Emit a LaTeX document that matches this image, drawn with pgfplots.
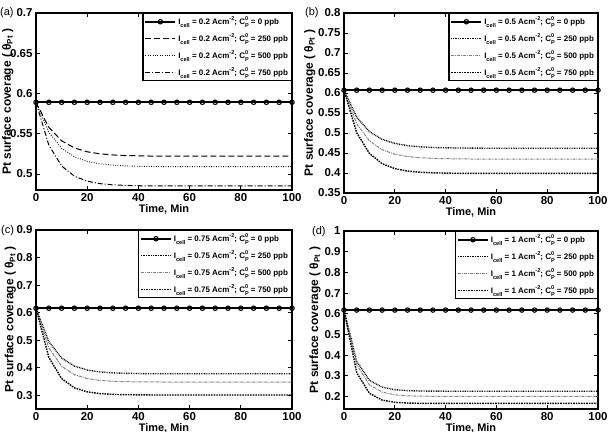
\documentclass[border=0pt]{standalone}
\usepackage{pgfplots}
\pgfplotsset{compat=1.18}
\usepackage{fontspec}
\setmainfont{Liberation Sans}

% legend text: I_cell = <current> Acm^-2; C_P^0 = <conc> ppb
\newcommand{\sm}{\fontsize{5.6}{6}\selectfont}
\newcommand{\Cp}{C\makebox[0pt][l]{\raisebox{0.5em}{\sm 0}}\raisebox{-0.32em}{\sm P}}
\newcommand{\entry}[2]{I\raisebox{-0.32em}{\sm cell} = #1 Acm\raisebox{0.5em}{\sm -2}; \Cp{} = #2 ppb}

\tikzset{letter/.style={anchor=west, inner sep=0pt, font=\fontsize{11}{12}\selectfont}}

\pgfplotsset{
  panel/.style={
    scale only axis,
    xmin=0, xmax=100, xtick={0,20,...,100},
    axis line style={line width=1.1bp},
    every tick/.style={black, line width=0.8bp},
    major tick length=4bp,
    tick label style={font=\fontsize{11.5}{12}\bfseries\selectfont},
    /pgf/number format/assume math mode=true,
    label style={font=\fontsize{11}{12}\bfseries\selectfont},
    xlabel={Time, Min},
    ylabel={Pt surface coverage ( θ\textsubscript{Pt} )},
    xlabel style={at={(axis description cs:0.5,0)}, yshift=-19bp, anchor=center},
    legend cell align=left,
    legend style={at={(1,1)}, anchor=north east, draw=black, line width=1.1bp,
      font=\fontsize{8}{9}\bfseries\selectfont, inner sep=1.5bp, row sep=3.5bp},
    legend image code/.code={
      \draw[mark repeat=2,mark phase=2,#1] plot coordinates {(0bp,0bp) (15bp,0bp) (30bp,0bp)};},
  },
  ylab/.style={ylabel style={at={(axis description cs:#1,0.5)}, anchor=center,
    font=\fontsize{12}{13}\bfseries\selectfont}},
  zero/.style={black, line width=1.8bp, mark=o, mark size=2.2bp,
    mark options={solid, line width=1.1bp, fill=white}},
  % styles of panel (a)
  adash/.style={black, line width=1bp, dash pattern=on 6bp off 3bp},
  adot/.style={black, line width=0.9bp, dash pattern=on 0.8bp off 1.6bp},
  adashdot/.style={black, line width=1bp, dash pattern=on 5bp off 2bp on 1bp off 2bp},
  % styles of panels (b)-(d)
  bdot/.style={black, line width=1.4bp, dash pattern=on 0.8bp off 0.9bp},
  bgray/.style={gray, line width=1bp, dash pattern=on 3bp off 1bp on 1bp off 1bp},
  bdash/.style={black, line width=1.4bp, dash pattern=on 1.6bp off 1bp},
}

\begin{document}
\begin{tikzpicture}
\path[use as bounding box] (0,0) rectangle (610bp,-432bp);

% ---------------- (a) 0.2 A/cm2 ----------------
\node[letter] at (0bp,-13bp) {(a)};
\begin{axis}[panel, at={(36bp,-190bp)}, anchor=south west,
  width=256bp, height=177bp,
  ymin=0.48, ymax=0.7, ytick={0.5,0.55,0.6,0.65,0.7}, ylab=-0.11]
\addplot[zero] coordinates {(0,0.589)(5,0.589)(10,0.589)(15,0.589)(20,0.589)(25,0.589)(30,0.589)(35,0.589)(40,0.589)(45,0.589)(50,0.589)(55,0.589)(60,0.589)(65,0.589)(70,0.589)(75,0.589)(80,0.589)(85,0.589)(90,0.589)(95,0.589)(100,0.589)};
\addplot[adash] coordinates {(0,0.589)(5,0.5579)(10,0.5412)(15,0.5323)(20,0.5275)(25,0.5249)(30,0.5236)(35,0.5228)(40,0.5225)(45,0.5222)(50,0.522)(100,0.522)};
\addplot[adot] coordinates {(0,0.589)(5,0.5518)(10,0.5319)(15,0.5213)(20,0.5156)(25,0.5125)(30,0.5109)(35,0.510)(40,0.5095)(45,0.5093)(50,0.509)(100,0.509)};
\addplot[adashdot] coordinates {(0,0.589)(5,0.5359)(10,0.5099)(15,0.4972)(20,0.491)(25,0.4879)(30,0.4864)(35,0.4857)(40,0.4853)(45,0.4852)(50,0.485)(100,0.485)};
\legend{\entry{0.2}{0},\entry{0.2}{250},\entry{0.2}{500},\entry{0.2}{750}}
\end{axis}

% ---------------- (b) 0.5 A/cm2 ----------------
\node[letter] at (305bp,-13bp) {(b)};
\begin{axis}[panel, at={(344bp,-193bp)}, anchor=south west,
  width=254bp, height=180bp,
  ymin=0.35, ymax=0.8, ytick={0.35,0.4,0.45,0.5,0.55,0.6,0.65,0.7,0.75,0.8}, ylab=-0.135]
\addplot[zero] coordinates {(0,0.607)(5,0.607)(10,0.607)(15,0.607)(20,0.607)(25,0.607)(30,0.607)(35,0.607)(40,0.607)(45,0.607)(50,0.607)(55,0.607)(60,0.607)(65,0.607)(70,0.607)(75,0.607)(80,0.607)(85,0.607)(90,0.607)(95,0.607)(100,0.607)};
\addplot[bdot] coordinates {(0,0.607)(5,0.5396)(10,0.5035)(15,0.4842)(20,0.4739)(25,0.4684)(30,0.4654)(35,0.4638)(40,0.463)(45,0.4625)(50,0.4623)(55,0.462)(100,0.462)};
\addplot[bgray] coordinates {(0,0.607)(5,0.5233)(10,0.4803)(15,0.4583)(20,0.447)(25,0.4411)(30,0.4381)(35,0.4366)(40,0.4358)(45,0.4354)(50,0.435)(100,0.435)};
\addplot[bdash] coordinates {(0,0.607)(5,0.5008)(10,0.4489)(15,0.4234)(20,0.4109)(25,0.4048)(30,0.4019)(35,0.4004)(40,0.3997)(45,0.3993)(50,0.399)(100,0.399)};
\legend{\entry{0.5}{0},\entry{0.5}{250},\entry{0.5}{500},\entry{0.5}{750}}
\end{axis}

% ---------------- (c) 0.75 A/cm2 ----------------
\node[letter] at (1bp,-231bp) {(c)};
\begin{axis}[panel, at={(36bp,-409bp)}, anchor=south west,
  width=256bp, height=179bp,
  ymin=0.25, ymax=0.9, ytick={0.3,0.4,0.5,0.6,0.7,0.8,0.9}, ylab=-0.10]
\addplot[zero] coordinates {(0,0.616)(5,0.616)(10,0.616)(15,0.616)(20,0.616)(25,0.616)(30,0.616)(35,0.616)(40,0.616)(45,0.616)(50,0.616)(55,0.616)(60,0.616)(65,0.616)(70,0.616)(75,0.616)(80,0.616)(85,0.616)(90,0.616)(95,0.616)(100,0.616)};
\addplot[bdot] coordinates {(0,0.616)(5,0.4945)(10,0.435)(15,0.4059)(20,0.3917)(25,0.3847)(30,0.3813)(35,0.3796)(40,0.3788)(45,0.3784)(50,0.378)(100,0.378)};
\addplot[bgray] coordinates {(0,0.616)(5,0.4722)(10,0.4055)(15,0.3747)(20,0.3604)(25,0.3537)(30,0.3507)(35,0.3492)(40,0.3486)(45,0.3483)(50,0.348)(100,0.348)};
\addplot[bdash] coordinates {(0,0.616)(5,0.4379)(10,0.3605)(15,0.3269)(20,0.3122)(25,0.3059)(30,0.3031)(35,0.3019)(40,0.3014)(45,0.301)(100,0.301)};
\legend{\entry{0.75}{0},\entry{0.75}{250},\entry{0.75}{500},\entry{0.75}{750}}
\end{axis}

% ---------------- (d) 1 A/cm2 ----------------
\node[letter] at (312bp,-232bp) {(d)};
\begin{axis}[panel, at={(344bp,-409bp)}, anchor=south west,
  width=254bp, height=178bp,
  ymin=0.14, ymax=1, ytick={0.2,0.3,0.4,0.5,0.6,0.7,0.8,0.9,1}, ylab=-0.114]
\addplot[zero] coordinates {(0,0.618)(5,0.618)(10,0.618)(15,0.618)(20,0.618)(25,0.618)(30,0.618)(35,0.618)(40,0.618)(45,0.618)(50,0.618)(55,0.618)(60,0.618)(65,0.618)(70,0.618)(75,0.618)(80,0.618)(85,0.618)(90,0.618)(95,0.618)(100,0.618)};
\addplot[bdot] coordinates {(0,0.618)(5,0.3702)(10,0.279)(15,0.2455)(20,0.2332)(25,0.2286)(30,0.227)(35,0.2264)(40,0.226)(100,0.226)};
\addplot[bgray] coordinates {(0,0.618)(5,0.3544)(10,0.2574)(15,0.2218)(20,0.2086)(25,0.2038)(30,0.202)(35,0.2014)(40,0.201)(100,0.201)};
\addplot[bdash] coordinates {(0,0.618)(5,0.3155)(10,0.2159)(15,0.1831)(20,0.1723)(25,0.1688)(30,0.1676)(35,0.167)(100,0.167)};
\legend{\entry{1}{0},\entry{1}{250},\entry{1}{500},\entry{1}{750}}
\end{axis}
\end{tikzpicture}
\end{document}
